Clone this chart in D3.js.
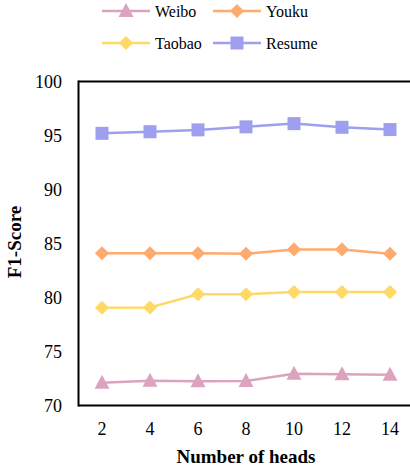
<!DOCTYPE html>
<html>
<head>
<script src="https://cdnjs.cloudflare.com/ajax/libs/d3/7.8.5/d3.min.js"></script>
<style>
  body { margin: 0; background: #fff; }
</style>
</head>
<body>
<script>
// data
var heads = [2, 4, 6, 8, 10, 12, 14];
var weibo  = [72.1, 72.3, 72.25, 72.27, 72.95, 72.9, 72.85];
var youku  = [84.1, 84.1, 84.1, 84.05, 84.45, 84.45, 84.05];
var taobao = [79.05, 79.07, 80.3, 80.3, 80.5, 80.5, 80.5];
var resume = [95.2, 95.35, 95.52, 95.8, 96.1, 95.76, 95.55];
var yTicks = [70, 75, 80, 85, 90, 95, 100];

var series = [
  {name: "Weibo",  values: weibo,  color: "#dca3be", shape: "tri"},
  {name: "Youku",  values: youku,  color: "#ffaa6e", shape: "dia"},
  {name: "Taobao", values: taobao, color: "#ffd966", shape: "dia"},
  {name: "Resume", values: resume, color: "#9f9fef", shape: "sq"}
];

var W = 410, H = 471;
var svg = d3.select("body").append("svg").attr("width", W).attr("height", H)
  .attr("font-family", "'Liberation Serif', 'DejaVu Serif', 'Times New Roman', serif");

var plotL = 78.5, plotT = 81.5, plotB = 405.5;

var x = d3.scalePoint().domain(heads).range([102, 390]);
var y = d3.scaleLinear().domain([70, 100]).range([plotB, plotT]);

// frame (top, left, bottom)
svg.append("line").attr("x1", plotL).attr("x2", W).attr("y1", plotT).attr("y2", plotT)
  .attr("stroke", "#000").attr("stroke-width", 2);
svg.append("line").attr("x1", plotL).attr("x2", W).attr("y1", plotB).attr("y2", plotB)
  .attr("stroke", "#000").attr("stroke-width", 2);
svg.append("line").attr("x1", plotL).attr("x2", plotL).attr("y1", plotT - 1).attr("y2", plotB + 1)
  .attr("stroke", "#000").attr("stroke-width", 2);

// y tick labels
svg.selectAll(".ytick").data(yTicks).enter().append("text")
  .attr("x", 62).attr("y", d => y(d) + 6)
  .attr("text-anchor", "end").attr("font-size", 18).text(d => d);

// x tick labels
svg.selectAll(".xtick").data(heads).enter().append("text")
  .attr("x", d => x(d)).attr("y", 435)
  .attr("text-anchor", "middle").attr("font-size", 18).text(d => d);

svg.append("text").attr("x", 246).attr("y", 463).attr("text-anchor", "middle")
  .attr("font-size", 19).attr("font-weight", "bold").text("Number of heads");

svg.append("text").attr("transform", "translate(21,242) rotate(-90)")
  .attr("text-anchor", "middle").attr("font-size", 19).attr("font-weight", "bold").text("F1-Score");

var line = d3.line().x((d, i) => x(heads[i])).y(d => y(d));

function marker(g, shape, color) {
  if (shape === "sq") {
    g.append("rect").attr("x", -6.5).attr("y", -6.5).attr("width", 13).attr("height", 13).attr("fill", color);
  } else if (shape === "dia") {
    g.append("rect").attr("x", -5).attr("y", -5).attr("width", 10).attr("height", 10)
      .attr("transform", "rotate(45)").attr("fill", color);
  } else {
    g.append("path").attr("d", "M0,-8L7.5,6L-7.5,6Z").attr("fill", color);
  }
}

series.forEach(function (s) {
  var g = svg.append("g");
  g.append("path").attr("d", line(s.values)).attr("fill", "none")
    .attr("stroke", s.color).attr("stroke-width", 2.5);
  g.selectAll("g.m").data(s.values).enter().append("g")
    .attr("class", "m")
    .attr("transform", (d, i) => "translate(" + x(heads[i]) + "," + y(d) + ")")
    .each(function () { marker(d3.select(this), s.shape, s.color); });
});

// legend
var legPos = [[102, 11], [213, 11], [102, 43], [213, 43]];
series.forEach(function (s, i) {
  var p = legPos[i];
  var g = svg.append("g").attr("transform", "translate(" + p[0] + "," + p[1] + ")");
  g.append("line").attr("x1", 0).attr("x2", 48).attr("stroke", s.color).attr("stroke-width", 2.5);
  marker(g.append("g").attr("transform", "translate(24,0)"), s.shape, s.color);
  g.append("text").attr("x", 53).attr("y", 5.5).attr("font-size", 16).text(s.name);
});
</script>
</body>
</html>
